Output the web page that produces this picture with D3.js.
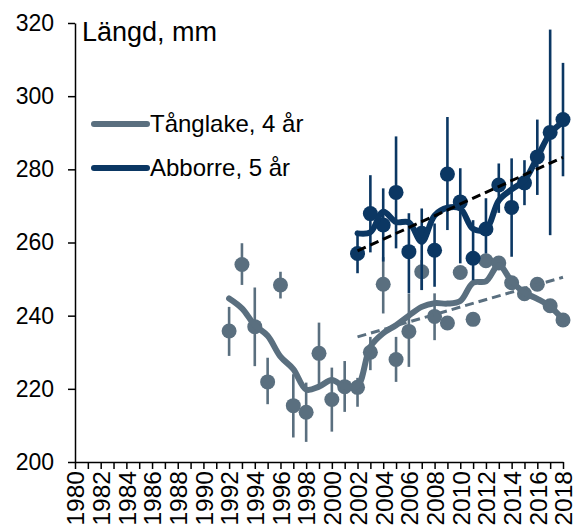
<html>
    <head>
        <style>
            body { margin: 0; background: #fff; }
            text { font-family: "Liberation Sans", Arial, sans-serif; fill: #000; }
            .axis path, .axis line {
            fill: none;
            stroke: #000;
            stroke-width: 1.5px;
            }
        </style>
    </head>
    <body>
        <div id="chart"></div>
        <script src="https://d3js.org/d3.v7.min.js"></script>
        <script>
            // Tånglake, 4 år (1992-2018)
            const grayYears = d3.range(1992, 2019);
            const grayMean = [235.8, 254.0, 237.0, 221.9, 248.4, 215.4, 213.6, 229.7, 217.1, 220.6, 220.4, 230.0, 248.6, 228.0, 235.7, 252.0, 239.8, 238.0, 251.8, 239.0, 255.0, 254.4, 249.0, 246.0, 248.6, 242.7, 238.8];
            const grayLow = [229.0, 248.4, 226.2, 215.8, 244.7, 206.7, 205.5, 221.0, 208.3, 213.7, 215.1, 225.1, 240.6, 221.9, 226.0, 247.0, 233.3, 237.0, 250.8, 238.0, 254.0, 253.4, 248.0, 245.0, 247.6, 241.7, 237.8];
            const grayHigh = [242.4, 259.8, 247.7, 228.5, 252.0, 224.0, 221.7, 238.1, 225.8, 227.6, 223.0, 234.2, 256.0, 234.2, 246.0, 255.2, 246.1, 239.0, 252.8, 240.0, 256.0, 255.4, 250.0, 247.0, 249.6, 243.7, 239.8];
            const graySmooth = [244.7, 242.0, 237.4, 234.5, 228.8, 225.4, 219.8, 220.6, 222.4, 220.6, 220.8, 231.5, 235.2, 237.4, 240.0, 242.4, 243.4, 243.3, 244.0, 249.0, 249.4, 253.8, 249.4, 246.3, 244.6, 242.5, 239.0];
            const grayTrend = [[2002, 234.2], [2018, 250.5]];

            // Abborre, 5 år (2002-2018)
            const navyYears = d3.range(2002, 2019);
            const navyMean = [257.0, 267.9, 264.8, 273.7, 257.5, 262.5, 257.9, 278.7, 271.1, 255.7, 263.7, 275.7, 269.6, 276.3, 283.4, 290.1, 293.6];
            const navyLow = [251.6, 257.3, 254.8, 258.4, 246.1, 247.0, 247.9, 263.4, 254.3, 249.7, 257.0, 268.1, 256.1, 270.2, 273.0, 262.0, 278.1];
            const navyHigh = [262.9, 278.4, 274.8, 289.0, 268.0, 269.3, 265.2, 294.3, 280.3, 266.1, 272.1, 281.6, 283.0, 282.5, 293.6, 318.2, 309.1];
            const navySmooth = [262.5, 262.8, 268.4, 265.6, 265.5, 260.2, 267.4, 269.5, 269.3, 263.7, 263.6, 271.5, 274.5, 277.0, 283.3, 289.8, 293.0];
            const navyTrend = [[2002, 257.7], [2018, 283.3]];

            const yTicks = [200, 220, 240, 260, 280, 300, 320];
            const xTicks = d3.range(1980, 2019);
            const seriesNames = ['Tånglake, 4 år', 'Abborre, 5 år'];

            const grayColor = '#5a6f7f', navyColor = '#0b3763';

            const margin = { top: 23, right: 18, bottom: 64, left: 75 },
                width = 581 - margin.left - margin.right,
                height = 526 - margin.top - margin.bottom;

            const xScale = d3.scaleLinear().domain([1980, 2018]).range([0, width]);
            const yScale = d3.scaleLinear().domain([200, 320]).range([height, 0]);

            const svg = d3.select('#chart')
                .append('svg')
                .attr('width', 581)
                .attr('height', 526)
                .append('g')
                .attr('transform', `translate(${margin.left},${margin.top})`);

            // x axis, a tick every year, a label every second year
            const xAxis = svg.append('g')
                .attr('class', 'x axis')
                .attr('transform', `translate(0,${height})`)
                .call(d3.axisBottom(xScale).tickValues(xTicks).tickSize(7).tickSizeOuter(0)
                    .tickFormat(d => d % 2 === 0 ? d : ''));
            xAxis.selectAll('text')
                .attr('transform', 'rotate(-90)')
                .attr('x', -9)
                .attr('y', 0)
                .attr('dy', '0.36em')
                .style('text-anchor', 'end')
                .style('font-size', '24.5px');

            svg.append('g')
                .attr('class', 'y axis')
                .call(d3.axisLeft(yScale).tickValues(yTicks).tickSize(7).tickSizeOuter(0).tickPadding(14));
            svg.selectAll('.y.axis text').style('font-size', '23px');

            function drawSeries(years, mean, low, high, smooth, color) {
                const g = svg.append('g');
                g.selectAll('.err')
                    .data(years)
                    .enter()
                    .append('line')
                    .attr('x1', d => xScale(d))
                    .attr('x2', d => xScale(d))
                    .attr('y1', (d, i) => yScale(low[i]))
                    .attr('y2', (d, i) => yScale(high[i]))
                    .attr('stroke', color)
                    .attr('stroke-width', 2.6);
                g.selectAll('.dot')
                    .data(years)
                    .enter()
                    .append('circle')
                    .attr('cx', d => xScale(d))
                    .attr('cy', (d, i) => yScale(mean[i]))
                    .attr('r', 7.5)
                    .attr('fill', color);
                const line = d3.line()
                    .x(d => xScale(d))
                    .y((d, i) => yScale(smooth[i]))
                    .curve(d3.curveCatmullRom.alpha(0.5));
                g.append('path')
                    .datum(years)
                    .attr('d', line)
                    .attr('fill', 'none')
                    .attr('stroke', color)
                    .attr('stroke-width', 6)
                    .attr('stroke-linecap', 'round')
                    .attr('stroke-linejoin', 'round');
            }

            drawSeries(grayYears, grayMean, grayLow, grayHigh, graySmooth, grayColor);
            drawSeries(navyYears, navyMean, navyLow, navyHigh, navySmooth, navyColor);

            // linear trends
            const trendLine = d3.line().x(d => xScale(d[0])).y(d => yScale(d[1]));
            svg.append('path')
                .attr('d', trendLine(grayTrend))
                .attr('fill', 'none')
                .attr('stroke', grayColor)
                .attr('stroke-width', 3)
                .attr('stroke-dasharray', '9,5');
            svg.append('path')
                .attr('d', trendLine(navyTrend))
                .attr('fill', 'none')
                .attr('stroke', '#000')
                .attr('stroke-width', 3)
                .attr('stroke-dasharray', '9,5');

            // title
            svg.append('text')
                .attr('x', 7)
                .attr('y', 18)
                .style('font-size', '27px')
                .text('Längd, mm');

            // legend
            const legend = svg.selectAll('.legend')
                .data(seriesNames)
                .enter()
                .append('g')
                .attr('transform', (d, i) => `translate(0,${101 + i * 44})`);
            legend.append('line')
                .attr('x1', 19)
                .attr('x2', 72)
                .attr('stroke', (d, i) => i === 0 ? grayColor : navyColor)
                .attr('stroke-width', 6)
                .attr('stroke-linecap', 'round');
            legend.append('text')
                .attr('x', 75)
                .attr('y', 8)
                .style('font-size', '24px')
                .text(d => d);
        </script>
    </body>
</html>
